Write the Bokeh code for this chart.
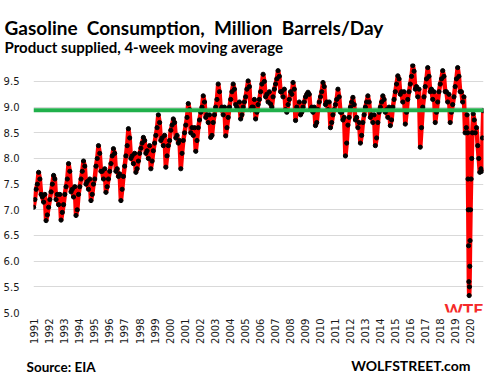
import math
from bokeh.plotting import figure
from bokeh.layouts import column
from bokeh.models import Range1d, FixedTicker, Label, Span, NumeralTickFormatter, CustomJSTickFormatter
from bokeh.embed import file_html
from bokeh.resources import INLINE

# ---- data: 4-week moving average, million barrels/day ----
# monthly readings, Jan..Dec (1991 starts in March)
v1991 = [7.05, 7.2, 7.4, 7.5, 7.73, 7.6, 7.3, 7.25, 7.15, 7.3]
v1992 = [6.79, 6.9, 7.05, 7.2, 7.35, 7.5, 7.67, 7.6, 7.2, 7.3, 7.1, 7.3]
v1993 = [6.8, 6.95, 7.1, 7.3, 7.45, 7.6, 7.9, 7.75, 7.35, 7.4, 7.25, 7.45]
v1994 = [6.89, 7.0, 7.3, 7.45, 7.6, 7.75, 7.95, 7.85, 7.5, 7.55, 7.4, 7.6]
v1995 = [7.18, 7.3, 7.5, 7.6, 7.85, 8.0, 8.25, 8.1, 7.75, 7.75, 7.6, 7.8]
v1996 = [7.34, 7.45, 7.6, 7.75, 7.9, 8.05, 8.19, 8.1, 7.75, 7.8, 7.65, 7.7]
v1997 = [7.18, 7.4, 7.65, 7.85, 8.05, 8.25, 8.58, 8.4, 8.0, 8.05, 7.9, 8.1]
v1998 = [7.73, 7.8, 7.95, 8.1, 8.2, 8.3, 8.41, 8.35, 8.1, 8.15, 8.0, 8.25]
v1999 = [7.8, 7.95, 8.15, 8.3, 8.45, 8.6, 8.85, 8.7, 8.35, 8.4, 8.25, 8.45]
v2000 = [7.83, 8.05, 8.25, 8.35, 8.55, 8.65, 8.77, 8.7, 8.4, 8.45, 8.3, 8.35]
v2001 = [7.8, 8.1, 8.35, 8.5, 8.65, 8.8, 9.07, 8.95, 8.5, 8.6, 8.45, 8.6]
v2002 = [8.14, 8.35, 8.6, 8.75, 8.9, 9.0, 9.22, 9.1, 8.8, 8.85, 8.7, 8.85]
v2003 = [8.41, 8.45, 8.7, 8.85, 9.0, 9.15, 9.45, 9.3, 8.95, 9.0, 8.85, 9.0]
v2004 = [8.44, 8.6, 8.8, 9.0, 9.15, 9.3, 9.45, 9.35, 9.05, 9.0, 8.95, 9.1]
v2005 = [8.77, 8.85, 9.0, 9.1, 9.2, 9.35, 9.51, 9.4, 8.95, 9.0, 9.0, 9.15]
v2006 = [8.77, 8.9, 9.05, 9.15, 9.3, 9.45, 9.64, 9.5, 9.2, 9.25, 9.1, 9.3]
v2007 = [9.06, 9.0, 9.2, 9.35, 9.45, 9.55, 9.71, 9.6, 9.3, 9.3, 9.2, 9.35]
v2008 = [8.95, 8.9, 9.05, 9.15, 9.3, 9.25, 9.48, 9.35, 8.74, 9.0, 8.95, 9.1]
v2009 = [8.85, 8.9, 9.0, 9.1, 9.2, 9.25, 9.29, 9.25, 8.95, 9.0, 8.9, 9.0]
v2010 = [8.64, 8.7, 8.95, 9.1, 9.2, 9.3, 9.48, 9.4, 9.05, 9.1, 8.95, 9.1]
v2011 = [8.6, 8.7, 8.85, 8.95, 9.05, 9.15, 9.35, 9.2, 8.9, 8.9, 8.75, 8.8]
v2012 = [8.05, 8.3, 8.65, 8.8, 9.0, 9.1, 9.19, 9.05, 8.75, 8.8, 8.6, 8.7]
v2013 = [8.3, 8.45, 8.7, 8.85, 9.0, 9.1, 9.22, 9.1, 8.8, 8.85, 8.7, 8.85]
v2014 = [8.25, 8.4, 8.7, 8.9, 9.0, 9.1, 9.22, 9.15, 8.9, 8.95, 8.8, 9.0]
v2015 = [8.64, 8.75, 9.0, 9.15, 9.3, 9.45, 9.61, 9.55, 9.25, 9.3, 9.1, 9.3]
v2016 = [8.67, 8.9, 9.15, 9.3, 9.45, 9.6, 9.81, 9.7, 9.35, 9.4, 9.2, 9.35]
v2017 = [8.22, 8.6, 9.0, 9.2, 9.4, 9.55, 9.77, 9.6, 9.3, 9.35, 9.15, 9.3]
v2018 = [8.7, 8.9, 9.1, 9.3, 9.45, 9.55, 9.71, 9.6, 9.3, 9.3, 9.1, 9.25]
v2019 = [8.7, 8.9, 9.05, 9.2, 9.4, 9.55, 9.77, 9.6, 9.3, 9.3, 9.1, 9.2]
# 2020 - early 2021, read at finer spacing (fractional year, value)
t_2020 = [2020.04, 2020.12, 2020.17, 2020.21, 2020.23, 2020.25, 2020.27, 2020.29,
          2020.31, 2020.33, 2020.35, 2020.37, 2020.40, 2020.44, 2020.48, 2020.52,
          2020.58, 2020.65, 2020.72, 2020.80, 2020.88, 2020.95, 2021.02, 2021.10,
          2021.15, 2021.20, 2021.25]
v2020 = [8.5, 8.6, 8.85, 8.5, 7.6, 7.0, 6.3, 5.6,
         5.33, 5.5, 5.9, 6.4, 7.0, 7.6, 8.0, 8.5,
         8.87, 8.75, 8.5, 8.6, 8.25, 8.0, 7.73, 7.8,
         7.75, 8.4, 8.93]

pre_covid_level = 8.94
year_labels = list(range(1991, 2021))
y_ticks = [5.0, 5.5, 6.0, 6.5, 7.0, 7.5, 8.0, 8.5, 9.0, 9.5]

yearly = [v1991, v1992, v1993, v1994, v1995, v1996, v1997, v1998, v1999, v2000,
          v2001, v2002, v2003, v2004, v2005, v2006, v2007, v2008, v2009, v2010,
          v2011, v2012, v2013, v2014, v2015, v2016, v2017, v2018, v2019]

t, v = [], []
for k, vals in enumerate(yearly):
    yr = 1991 + k
    first_month = 12 - len(vals)
    for i, val in enumerate(vals):
        t.append(yr + (first_month + i + 0.5) / 12.0)
        v.append(val)
t += t_2020
v += v2020

W = 492
NB = "\u00a0"


def text_panel(h):
    f = figure(width=W, height=h, output_backend="svg", toolbar_location=None,
               x_range=Range1d(0, W), y_range=Range1d(h, 0),
               x_axis_location=None, y_axis_location=None,
               min_border=0, min_border_left=0, min_border_right=0,
               min_border_top=0, min_border_bottom=0)
    f.frame_align = False
    f.title.visible = False
    f.outline_line_color = None
    f.xgrid.grid_line_color = None
    f.ygrid.grid_line_color = None
    return f


def add_text(fig, x, y, text, size, color="black", align="left"):
    fig.add_layout(Label(x=x, y=y, text=text,
                         text_font="Lato", text_font_style="bold", text_font_size=size,
                         text_color=color, text_align=align, text_baseline="alphabetic"))


# ---- header (page y 0..56) ----
header = text_panel(56)
title = "Gasoline" + NB + " Consumption," + NB + " Million" + NB + " Barrels/Day"
add_text(header, 4, 26.7, title, "19px")
add_text(header, 4, 46.5, "Product supplied, 4-week moving average", "15px")

# ---- main chart (page y 56..356) ----
p = figure(width=W, height=300, output_backend="svg", toolbar_location=None,
           x_range=Range1d(1991.2, 2021.267), y_range=Range1d(5.0, 9.85),
           min_border_left=32, min_border_right=9, min_border_top=7, min_border_bottom=44)
p.frame_align = False
p.title.visible = False
p.outline_line_color = None

p.line(t, v, line_color="#FF0000", line_width=4.5)
p.scatter(t, v, size=4.2, color="black")

p.add_layout(Span(location=pre_covid_level, dimension="width",
                  line_color="#20B04B", line_width=4))

p.yaxis.ticker = FixedTicker(ticks=y_ticks)
p.yaxis.formatter = NumeralTickFormatter(format="0.0")
label_pos = [yr + 0.25 + (yr - 1991) * 0.005 for yr in year_labels]
p.xaxis.ticker = FixedTicker(ticks=label_pos)
p.xaxis.formatter = CustomJSTickFormatter(code="return Math.floor(tick).toString();")
p.xaxis.major_label_orientation = math.pi / 2

for ax in (p.xaxis[0], p.yaxis[0]):
    ax.axis_line_color = None
    ax.major_tick_line_color = None
    ax.minor_tick_line_color = None
    ax.major_tick_out = 0
    ax.major_label_text_font = "DejaVu Sans"
    ax.major_label_text_font_size = "10px"
    ax.major_label_text_color = "#1a1a1a"
p.yaxis.major_label_standoff = 14
p.xaxis.major_label_standoff = 6

p.xgrid.grid_line_color = None
p.ygrid.grid_line_color = "#D9D9D9"
p.ygrid.grid_line_width = 1

add_text(p, 2021.25, 5.05, "WTF", "17.5px", color="#F52A2A", align="right")

# ---- footer (page y 356..376) ----
footer = text_panel(20)
add_text(footer, 26, 10, "Source: EIA", "13.5px")
add_text(footer, 470, 9.3, "WOLFSTREET.com", "14px", align="right")

layout = column(header, p, footer, spacing=0)
open("out.html", "w").write(file_html(layout, INLINE))
